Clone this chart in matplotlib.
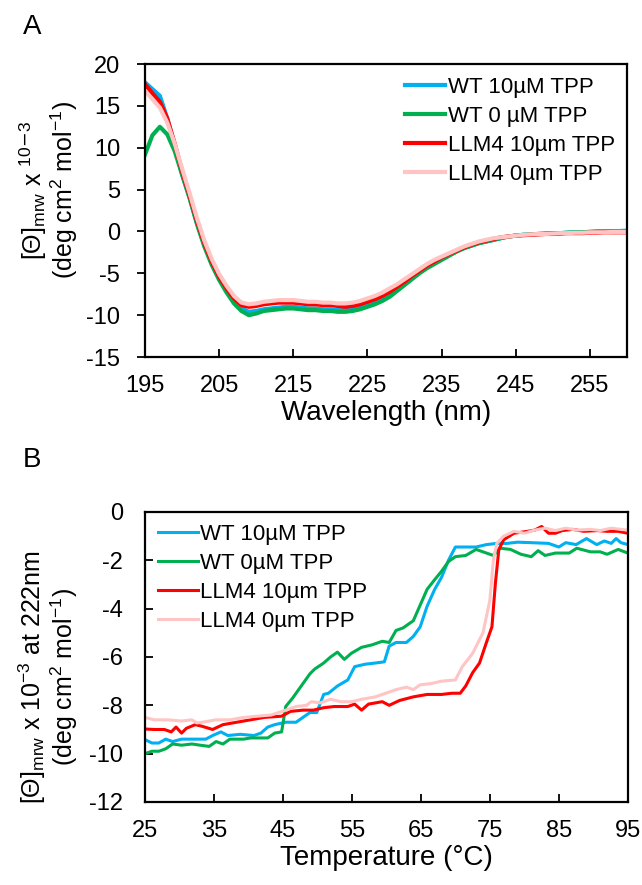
import numpy as np
import matplotlib.pyplot as plt

plt.rcParams['font.family'] = ['Liberation Sans', 'DejaVu Sans']
plt.rcParams['mathtext.fontset'] = 'custom'
plt.rcParams['mathtext.rm'] = 'Liberation Sans'
plt.rcParams['mathtext.it'] = 'Liberation Sans:italic'
plt.rcParams['mathtext.bf'] = 'Liberation Sans:bold'
plt.rcParams['axes.unicode_minus'] = False

# panel A: CD spectra, 195-260 nm
wavelength = np.arange(195, 261)
wt_10 = [17.8, 17.0, 16.2, 13.5, 10.2, 6.8, 4.1, 1.0, -1.6, -3.8,
         -5.6, -7.0, -8.3, -9.2, -9.6, -9.5, -9.3, -9.2, -9.1, -9.0,
         -9.0, -9.1, -9.2, -9.2, -9.3, -9.3, -9.4, -9.4, -9.3, -9.1,
         -8.8, -8.5, -8.1, -7.6, -7.0, -6.3, -5.6, -4.9, -4.3, -3.8,
         -3.3, -2.8, -2.4, -2.0, -1.7, -1.4, -1.2, -1.0, -0.8, -0.6,
         -0.5, -0.4, -0.35, -0.3, -0.25, -0.2, -0.2, -0.15, -0.1, -0.1,
         -0.05, 0.0, 0.0, 0.05, 0.05, 0.1]
wt_0 = [9.2, 11.5, 12.5, 11.6, 9.6, 6.8, 4.0, 0.9, -1.8, -4.0,
        -5.8, -7.3, -8.6, -9.5, -10.0, -9.8, -9.5, -9.4, -9.3, -9.2,
        -9.2, -9.3, -9.4, -9.4, -9.5, -9.5, -9.6, -9.6, -9.5, -9.3,
        -9.0, -8.7, -8.3, -7.8, -7.1, -6.4, -5.7, -5.0, -4.4, -3.9,
        -3.4, -2.9, -2.4, -2.0, -1.7, -1.4, -1.2, -1.0, -0.8, -0.6,
        -0.5, -0.4, -0.35, -0.3, -0.25, -0.2, -0.2, -0.15, -0.1, -0.1,
        -0.05, 0.0, 0.0, 0.0, 0.0, 0.0]
llm4_10 = [17.6, 16.5, 15.5, 13.5, 10.5, 7.2, 4.3, 1.3, -1.4, -3.6,
           -5.4, -6.8, -8.0, -8.8, -9.0, -8.9, -8.7, -8.6, -8.5, -8.5,
           -8.5, -8.6, -8.7, -8.7, -8.8, -8.8, -8.9, -9.0, -8.9, -8.7,
           -8.4, -8.1, -7.7, -7.2, -6.6, -6.0, -5.3, -4.7, -4.1, -3.6,
           -3.1, -2.7, -2.3, -1.9, -1.6, -1.3, -1.1, -0.9, -0.7, -0.6,
           -0.5, -0.45, -0.4, -0.35, -0.3, -0.3, -0.25, -0.2, -0.2, -0.2,
           -0.15, -0.15, -0.1, -0.1, -0.1, -0.1]
llm4_0 = [16.8, 15.8, 14.8, 13.0, 10.5, 7.5, 4.6, 1.6, -1.1, -3.3,
          -5.1, -6.5, -7.7, -8.5, -8.7, -8.6, -8.4, -8.3, -8.2, -8.2,
          -8.2, -8.3, -8.4, -8.4, -8.5, -8.5, -8.6, -8.6, -8.5, -8.3,
          -8.0, -7.7, -7.3, -6.8, -6.3, -5.7, -5.1, -4.5, -3.9, -3.4,
          -3.0, -2.6, -2.2, -1.8, -1.5, -1.2, -1.0, -0.8, -0.7, -0.6,
          -0.5, -0.4, -0.35, -0.3, -0.3, -0.25, -0.2, -0.2, -0.15, -0.15,
          -0.1, -0.1, -0.1, -0.05, -0.05, -0.05]

# panel B: thermal melts at 222 nm
t_wt10 = [25, 26, 27, 28, 29, 30.3, 31.8, 33.8, 34.8, 36, 37, 38.8, 40.8,
          41.8, 42.8, 43.8, 45.4, 46.9, 47.9, 48.9, 49.9, 50.9, 51.6, 52.9,
          54.4, 55.4, 56.9, 58.4, 59.7, 60.4, 61.4, 62.9, 63.9, 64.9, 65.9,
          67, 68, 69, 70, 71.5, 73, 74.5, 76, 77.5, 79, 81, 83.5, 85, 86,
          87.5, 89, 90.5, 91.6, 92.6, 93.3, 94, 95]
v_wt10 = [-9.42, -9.56, -9.56, -9.4, -9.5, -9.4, -9.4, -9.4, -9.25, -9.1,
          -9.25, -9.2, -9.25, -9.15, -8.9, -8.8, -8.7, -8.7, -8.5, -8.3,
          -8.3, -7.55, -7.5, -7.2, -6.95, -6.4, -6.3, -6.25, -6.2, -5.55,
          -5.4, -5.4, -5.15, -4.75, -3.9, -3.2, -2.7, -2.0, -1.45, -1.45,
          -1.45, -1.35, -1.3, -1.3, -1.25, -1.27, -1.3, -1.45, -1.27, -1.35,
          -1.1, -1.35, -1.2, -1.3, -1.1, -1.27, -1.35]

t_wt0 = [25, 26, 27, 28, 29, 30.3, 31.8, 33, 34.3, 35.3, 36.3, 37.3, 39.3,
         40.3, 42.8, 43.8, 44.8, 45.4, 46.4, 47.4, 48.9, 49.6, 50.9, 51.9,
         52.9, 53.9, 54.9, 56.4, 57.9, 59.4, 60.4, 61.4, 62.4, 63.9, 65.9,
         67, 68, 69, 70, 71.5, 73, 74.5, 75.5, 76.5, 78, 79.5, 81, 82, 83,
         84.5, 86.5, 87.6, 89.6, 91, 92, 93.6, 95]
v_wt0 = [-10.0, -9.9, -9.9, -9.8, -9.6, -9.65, -9.6, -9.65, -9.7, -9.5,
         -9.6, -9.4, -9.4, -9.35, -9.35, -9.15, -9.1, -8.05, -7.7, -7.3,
         -6.7, -6.5, -6.25, -6.0, -5.8, -6.1, -5.85, -5.6, -5.5, -5.35,
         -5.4, -4.9, -4.8, -4.5, -3.2, -2.8, -2.45, -2.05, -1.85, -1.8,
         -1.55, -1.7, -1.8, -1.5, -1.55, -1.75, -1.85, -1.6, -1.8, -1.7,
         -1.7, -1.5, -1.65, -1.65, -1.75, -1.55, -1.7]

t_llm10 = [25, 26.3, 27.8, 28.8, 29.5, 30.3, 31, 32.3, 33.3, 34.8, 36.3,
           38.3, 40.3, 42.3, 44.8, 46.1, 47.9, 49.4, 50.9, 52.4, 54.4, 55.4,
           56.4, 57.4, 59.4, 60.4, 61.9, 63.9, 65.9, 68, 69.5, 70.7, 71.5,
           72.5, 73.5, 74.5, 75.3, 75.8, 76.3, 77, 78.5, 80.5, 81.5, 82.5,
           83.5, 84.5, 85.5, 87, 88.6, 90.6, 92, 93.6, 95]
v_llm10 = [-8.98, -9.0, -9.0, -9.1, -8.9, -9.15, -8.95, -8.8, -8.87, -9.0,
           -8.8, -8.7, -8.6, -8.5, -8.45, -8.25, -8.2, -8.2, -8.1, -8.05,
           -8.05, -7.95, -8.2, -7.95, -7.85, -8.0, -7.8, -7.65, -7.55, -7.55,
           -7.5, -7.5, -7.2, -6.65, -6.25, -5.4, -4.75, -2.95, -1.55, -1.15,
           -0.88, -0.8, -0.75, -0.6, -0.88, -0.88, -0.77, -0.72, -0.8, -0.77,
           -0.8, -0.8, -0.88]

t_llm0 = [25, 26.3, 28.3, 30.3, 31.8, 32.5, 33.3, 35.3, 37.3, 39.3, 41.3,
          43.3, 45.4, 46.9, 48.4, 49.1, 50.4, 51.9, 53.4, 54.9, 56.4, 58.4,
          59.9, 61.4, 62.9, 63.9, 64.9, 66.5, 68, 70, 71, 72.5, 74, 75,
          75.5, 76, 77, 78.5, 80, 81.5, 83, 84.5, 86, 87.6, 89.6, 91, 92.6,
          94, 95]
v_llm0 = [-8.5, -8.6, -8.6, -8.65, -8.6, -8.73, -8.7, -8.6, -8.6, -8.5,
          -8.45, -8.4, -8.2, -8.05, -8.0, -7.85, -7.9, -7.75, -7.85, -7.85,
          -7.75, -7.65, -7.5, -7.35, -7.25, -7.35, -7.15, -7.1, -7.0, -6.95,
          -6.4, -5.85, -5.0, -3.65, -2.0, -1.3, -1.0, -0.8, -0.88, -0.75,
          -0.67, -0.77, -0.67, -0.75, -0.72, -0.77, -0.67, -0.72, -0.75]

blue = '#00B0F0'
green = '#00B050'
red = '#FF0000'
pink = '#FFC4C4'

fig = plt.figure(figsize=(6.42, 8.85), dpi=100)
axA = fig.add_axes([0.2259, 0.5966, 0.7508, 0.331])
axB = fig.add_axes([0.2259, 0.0938, 0.752, 0.3277])

# panel A
axA.plot(wavelength, wt_10, color=blue, lw=3, label='WT 10µM TPP')
axA.plot(wavelength, wt_0, color=green, lw=3, label='WT 0 µM TPP')
axA.plot(wavelength, llm4_10, color=red, lw=3, label='LLM4 10µm TPP')
axA.plot(wavelength, llm4_0, color=pink, lw=3, label='LLM4 0µm TPP')
axA.set_xlim(195, 260)
axA.set_ylim(-15, 20)
axA.set_xticks(np.arange(195, 260, 10))
axA.set_yticks(np.arange(-15, 21, 5))
axA.tick_params(axis='x', direction='in', length=6, width=1.3, labelsize=17, pad=13)
axA.tick_params(axis='y', direction='out', length=6, width=1.3, labelsize=17, pad=12)
axA.set_xlabel('Wavelength (nm)', fontsize=20, labelpad=2)
axA.set_ylabel('[Θ]$_{\\rm mrw}$ x $^{10\\mathsf{-}3}$\n(deg cm$^2$ mol$^{-1}$)',
               fontsize=18, linespacing=1.0)
axA.yaxis.set_label_coords(-0.20, 0.57)
axA.yaxis.label.set_verticalalignment('center')
axA.legend(loc='upper left', bbox_to_anchor=(0.54, 0.955), frameon=False,
           fontsize=16, handlelength=1.8, handletextpad=0.1,
           borderpad=0, borderaxespad=0, labelspacing=0.36)

# panel B
axB.plot(t_wt10, v_wt10, color=blue, lw=2.2, label='WT 10µM TPP')
axB.plot(t_wt0, v_wt0, color=green, lw=2.2, label='WT 0µM TPP')
axB.plot(t_llm10, v_llm10, color=red, lw=2.2, label='LLM4 10µm TPP')
axB.plot(t_llm0, v_llm0, color=pink, lw=2.2, label='LLM4 0µm TPP')
axB.set_xlim(25, 95)
axB.set_ylim(-12, 0)
axB.set_xticks(np.arange(25, 96, 10))
axB.set_yticks(np.arange(-12, 1, 2))
axB.tick_params(axis='x', direction='in', length=6, width=1.3, labelsize=17, pad=13)
axB.tick_params(axis='y', direction='in', length=6, width=1.3, labelsize=17, pad=16)
axB.set_xlabel('Temperature (°C)', fontsize=20, labelpad=2)
axB.set_ylabel('[Θ]$_{\\rm mrw}$ x 10$^{-3}$ at 222nm\n(deg cm$^2$ mol$^{-1}$)',
               fontsize=18, linespacing=1.0)
axB.yaxis.set_label_coords(-0.20, 0.43)
axB.yaxis.label.set_verticalalignment('center')
axB.legend(loc='upper left', bbox_to_anchor=(0.027, 0.96), frameon=False,
           fontsize=16, handlelength=1.8, handletextpad=0.1,
           borderpad=0, borderaxespad=0, labelspacing=0.36)

for ax in (axA, axB):
    for s in ax.spines.values():
        s.set_linewidth(1.6)

fig.text(32 / 642, 1 - 27 / 885, 'A', fontsize=20, ha='center', va='center')
fig.text(32 / 642, 1 - 460 / 885, 'B', fontsize=20, ha='center', va='center')

fig.savefig('out.png', dpi=100)
